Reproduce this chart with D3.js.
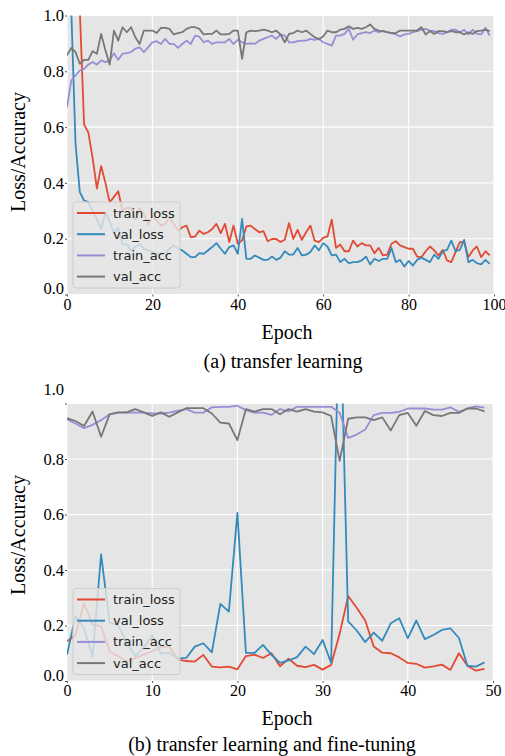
<!DOCTYPE html>
<html>
<head>
<meta charset="utf-8">
<script src="https://cdn.jsdelivr.net/npm/d3@7"></script>
<style>
  html, body { margin: 0; padding: 0; background: #ffffff; }
  svg { display: block; }
</style>
</head>
<body>
<div id="chart"></div>
<script>
// ---------------- DATA ----------------
const seriesNames = ["train_loss", "val_loss", "train_acc", "val_acc"];
const seriesColors = ["#E24A33", "#348ABD", "#988ED5", "#777777"];

const xTicksA = [0, 20, 40, 60, 80, 100];
const xTicksB = [0, 10, 20, 30, 40, 50];
const yTicks = [0.0, 0.2, 0.4, 0.6, 0.8, 1.0];

// (a) transfer learning : 100 epochs
const trainLossA = [2.6, 2.0, 1.5, 1.02, 0.61, 0.58, 0.49, 0.38, 0.46, 0.40,
  0.33, 0.35, 0.37, 0.30, 0.31, 0.31, 0.27, 0.31, 0.29, 0.25,
  0.28, 0.265, 0.247, 0.253, 0.277, 0.253, 0.229, 0.241, 0.247, 0.205,
  0.208, 0.229, 0.217, 0.223, 0.235, 0.253, 0.220, 0.253, 0.188, 0.247,
  0.182, 0.194, 0.244,
  0.247, 0.235, 0.223, 0.227, 0.191, 0.199, 0.199, 0.188, 0.196, 0.256,
  0.199, 0.232, 0.196, 0.223, 0.247, 0.193, 0.188, 0.203, 0.208, 0.268,
  0.167, 0.179, 0.155, 0.155, 0.193, 0.172, 0.184, 0.176, 0.176, 0.148,
  0.167, 0.140, 0.143, 0.182, 0.191, 0.176, 0.170, 0.164, 0.164, 0.136,
  0.134, 0.155, 0.172, 0.158, 0.140, 0.160, 0.122, 0.116, 0.152, 0.188,
  0.188, 0.134, 0.158, 0.172, 0.134, 0.155, 0.140];
const valLossA = [1.5, 1.02, 0.54, 0.367, 0.337, 0.331, 0.30, 0.27, 0.235, 0.295,
  0.26, 0.22, 0.24, 0.18, 0.18, 0.158, 0.170, 0.182, 0.164, 0.158,
  0.152, 0.146, 0.146, 0.148, 0.164, 0.176, 0.164, 0.158, 0.146, 0.134,
  0.134, 0.148, 0.146, 0.158, 0.170, 0.184, 0.164, 0.146, 0.170, 0.176,
  0.146, 0.271, 0.128,
  0.128, 0.140, 0.132, 0.124, 0.124, 0.136, 0.124, 0.132, 0.155, 0.143,
  0.143, 0.167, 0.140, 0.143, 0.152, 0.176, 0.158, 0.184, 0.172, 0.140,
  0.143, 0.116, 0.128, 0.112, 0.116, 0.116, 0.122, 0.136, 0.108, 0.128,
  0.120, 0.128, 0.128, 0.167, 0.116, 0.124, 0.100, 0.120, 0.104, 0.124,
  0.132, 0.124, 0.116, 0.143, 0.128, 0.155, 0.160, 0.193, 0.155, 0.160,
  0.196, 0.116, 0.124, 0.112, 0.108, 0.124, 0.110];
const trainAccA = [0.671, 0.767, 0.785, 0.803, 0.809, 0.824, 0.833, 0.824, 0.839, 0.833,
  0.839, 0.865, 0.841, 0.863, 0.865, 0.869, 0.881, 0.886, 0.869, 0.886,
  0.904, 0.908, 0.898, 0.916, 0.898, 0.898, 0.884, 0.898, 0.910, 0.898,
  0.928, 0.924, 0.904, 0.910, 0.898, 0.904, 0.904, 0.904, 0.916, 0.898,
  0.913, 0.904, 0.898, 0.900, 0.898, 0.910, 0.916, 0.922, 0.928, 0.916,
  0.932, 0.928, 0.904, 0.904, 0.908, 0.910, 0.910, 0.916, 0.913, 0.916,
  0.904, 0.898, 0.892, 0.928, 0.928, 0.934, 0.952, 0.913, 0.932, 0.937,
  0.940, 0.937, 0.946, 0.940, 0.944, 0.940, 0.937, 0.932, 0.925, 0.932,
  0.934, 0.940, 0.944, 0.949, 0.952, 0.946, 0.944, 0.937, 0.934, 0.940,
  0.949, 0.949, 0.940, 0.949, 0.932, 0.949, 0.934, 0.932, 0.956, 0.928];
const valAccA = [0.857, 0.884, 0.869, 0.827, 0.841, 0.841, 0.872, 0.863, 0.934, 0.875,
  0.824, 0.946, 0.910, 0.958, 0.940, 0.958, 0.922, 0.898, 0.946, 0.946,
  0.946, 0.937, 0.956, 0.956, 0.952, 0.932, 0.937, 0.940, 0.952, 0.958,
  0.958, 0.952, 0.932, 0.934, 0.934, 0.946, 0.932, 0.932, 0.934, 0.946,
  0.946, 0.845, 0.940, 0.946, 0.944, 0.946, 0.949, 0.946, 0.940, 0.946,
  0.932, 0.904, 0.934, 0.937, 0.946, 0.940, 0.946, 0.934, 0.922, 0.916,
  0.925, 0.946, 0.940, 0.940, 0.949, 0.952, 0.961, 0.952, 0.956, 0.952,
  0.958, 0.968, 0.952, 0.946, 0.944, 0.940, 0.937, 0.937, 0.946, 0.946,
  0.946, 0.946, 0.946, 0.958, 0.932, 0.944, 0.934, 0.944, 0.944, 0.940,
  0.944, 0.940, 0.940, 0.932, 0.940, 0.934, 0.944, 0.946, 0.949, 0.944];

// (b) transfer learning and fine-tuning : 50 epochs
const trainLossB = [0.143, 0.165, 0.28, 0.203, 0.197, 0.107, 0.089, 0.071, 0.083, 0.095,
  0.107, 0.122, 0.125, 0.078, 0.072, 0.070, 0.094, 0.052, 0.049, 0.052,
  0.042, 0.090, 0.095, 0.083, 0.100, 0.053, 0.080, 0.055, 0.050, 0.058,
  0.041, 0.058, 0.170, 0.306, 0.264, 0.218, 0.124, 0.102, 0.100, 0.085,
  0.065, 0.062, 0.048, 0.053, 0.059, 0.040, 0.100, 0.055, 0.037, 0.044];
const valLossB = [0.095, 0.233, 0.19, 0.088, 0.456, 0.21, 0.20, 0.14, 0.09, 0.12,
  0.165, 0.10, 0.10, 0.082, 0.083, 0.124, 0.136, 0.103, 0.278, 0.25,
  0.606, 0.101, 0.101, 0.13, 0.094, 0.065, 0.074, 0.086, 0.124, 0.097,
  0.148, 0.065, 1.45, 0.215, 0.182, 0.14, 0.174, 0.145, 0.208, 0.226,
  0.154, 0.218, 0.151, 0.166, 0.184, 0.19, 0.155, 0.055, 0.052, 0.067];
const trainAccB = [0.943, 0.928, 0.911, 0.923, 0.94, 0.961, 0.967, 0.967, 0.967, 0.967,
  0.964, 0.964, 0.967, 0.974, 0.98, 0.967, 0.967, 0.986, 0.988, 0.988,
  0.992, 0.976, 0.967, 0.967, 0.959, 0.98, 0.972, 0.988, 0.988, 0.988,
  0.988, 0.988, 0.967, 0.876, 0.888, 0.906, 0.958, 0.966, 0.966, 0.97,
  0.982, 0.982, 0.982, 0.978, 0.978, 0.986, 0.97, 0.982, 0.99, 0.985];
const valAccB = [0.947, 0.937, 0.919, 0.971, 0.880, 0.961, 0.968, 0.968, 0.980, 0.968,
  0.955, 0.968, 0.952, 0.968, 0.983, 0.983, 0.983, 0.964, 0.931, 0.928,
  0.868, 0.980, 0.971, 0.980, 0.980, 0.961, 0.980, 0.971, 0.980, 0.971,
  0.968, 0.955, 0.793, 0.945, 0.950, 0.950, 0.940, 0.950, 0.903, 0.958,
  0.966, 0.920, 0.973, 0.958, 0.955, 0.966, 0.966, 0.982, 0.982, 0.972];

// ---------------- DRAW ----------------
const W = 505, H = 756;
const svg = d3.select("#chart").append("svg")
  .attr("width", W).attr("height", H)
  .attr("viewBox", `0 0 ${W} ${H}`);
svg.append("rect").attr("width", W).attr("height", H).attr("fill", "#ffffff");

const serif = "'Liberation Serif', 'Times New Roman', serif";
const sans = "'DejaVu Sans', sans-serif";

function panel(opts) {
  const { id, left, right, top, bottom, xMax, xTicks, series, labelY, xLabelX, xLabelY, caption, captionX, captionY, yLabelY, topLabelShift } = opts;
  const x = d3.scaleLinear().domain([0, xMax]).range([left, right]);
  const y = d3.scaleLinear().domain([0, 1]).range([bottom, top]);
  const g = svg.append("g");

  // background
  g.append("rect").attr("x", left).attr("y", top)
    .attr("width", right - left).attr("height", bottom - top)
    .attr("fill", "#E5E5E5");

  // grid
  g.append("g").selectAll("line").data(xTicks).join("line")
    .attr("x1", d => x(d)).attr("x2", d => x(d))
    .attr("y1", top).attr("y2", bottom)
    .attr("stroke", "#ffffff").attr("stroke-width", 1.1);
  g.append("g").selectAll("line").data(yTicks).join("line")
    .attr("x1", left).attr("x2", right)
    .attr("y1", d => y(d)).attr("y2", d => y(d))
    .attr("stroke", "#ffffff").attr("stroke-width", 1.1);

  // axes
  const xAxis = d3.axisBottom(x).tickValues(xTicks).tickSize(2).tickPadding(2).tickFormat(d3.format("d"));
  const gx = g.append("g").attr("transform", `translate(0,${bottom})`).call(xAxis);
  gx.select(".domain").remove();
  gx.attr("font-family", null);
  gx.selectAll(".tick line").attr("stroke", "#555555");
  gx.selectAll(".tick text").style("font-family", serif).style("font-size", "16px").attr("fill", "#000");

  const yAxis = d3.axisLeft(y).tickValues(yTicks).tickSize(2).tickPadding(1).tickFormat(d3.format(".1f"));
  const gy = g.append("g").attr("transform", `translate(${left},0)`).call(yAxis);
  gy.select(".domain").remove();
  gy.attr("font-family", null);
  gy.selectAll(".tick line").attr("stroke", "#555555");
  gy.selectAll(".tick text").style("font-family", serif).style("font-size", "16.5px").attr("fill", "#000")
    .attr("dy", d => d === 0 ? "-0.05em" : (d === 1 ? topLabelShift : "0.32em"));

  // clip
  const clipId = "clip-" + id;
  svg.append("defs").append("clipPath").attr("id", clipId)
    .append("rect").attr("x", left).attr("y", top)
    .attr("width", right - left).attr("height", bottom - top);

  const line = d3.line().x((d, i) => x(i)).y(d => y(d));
  const lg = g.append("g").attr("clip-path", `url(#${clipId})`);
  series.forEach((s, k) => {
    lg.append("path").datum(s)
      .attr("d", line)
      .attr("fill", "none")
      .attr("stroke", seriesColors[k])
      .attr("stroke-width", 1.8)
      .attr("stroke-linejoin", "round");
  });

  // legend
  const lw = 107, lh = 86;
  const lx = left + 6, ly = bottom - 6.5 - lh;
  const leg = g.append("g");
  leg.append("rect").attr("x", lx).attr("y", ly).attr("width", lw).attr("height", lh)
    .attr("rx", 3).attr("ry", 3)
    .attr("fill", "#E5E5E5").attr("fill-opacity", 0.82)
    .attr("stroke", "#cccccc").attr("stroke-width", 1);
  seriesNames.forEach((name, k) => {
    const ry = ly + 11 + k * 21.2;
    leg.append("line").attr("x1", lx + 4).attr("x2", lx + 32)
      .attr("y1", ry).attr("y2", ry)
      .attr("stroke", seriesColors[k]).attr("stroke-width", 2);
    leg.append("text").attr("x", lx + 40).attr("y", ry)
      .attr("dy", "0.35em")
      .style("font-family", sans).style("font-size", "13px")
      .attr("fill", "#222").text(name);
  });

  // labels
  g.append("text")
    .attr("transform", `translate(18,${yLabelY}) rotate(-90)`)
    .attr("text-anchor", "middle").attr("dominant-baseline", "central")
    .style("font-family", serif).style("font-size", "20px").attr("fill", "#000")
    .text(labelY);
  g.append("text").attr("x", xLabelX).attr("y", xLabelY)
    .attr("text-anchor", "middle")
    .style("font-family", serif).style("font-size", "20px").attr("fill", "#000")
    .text("Epoch");
  g.append("text").attr("x", captionX).attr("y", captionY)
    .attr("text-anchor", "middle")
    .style("font-family", serif).style("font-size", "20px").attr("fill", "#000")
    .text(caption);
}

panel({
  id: "a", left: 67, right: 494, top: 15.5, bottom: 294.5, xMax: 100, xTicks: xTicksA,
  series: [trainLossA, valLossA, trainAccA, valAccA],
  labelY: "Loss/Accuracy", yLabelY: 152,
  xLabelX: 287, xLabelY: 339,
  caption: "(a) transfer learning", captionX: 283, captionY: 368,
  topLabelShift: "0.32em"
});

panel({
  id: "b", left: 67, right: 493, top: 403.5, bottom: 681, xMax: 50, xTicks: xTicksB,
  series: [trainLossB, valLossB, trainAccB, valAccB],
  labelY: "Loss/Accuracy", yLabelY: 535,
  xLabelX: 287, xLabelY: 725,
  caption: "(b) transfer learning and fine-tuning", captionX: 272, captionY: 751,
  topLabelShift: "-0.55em"
});
</script>
</body>
</html>
